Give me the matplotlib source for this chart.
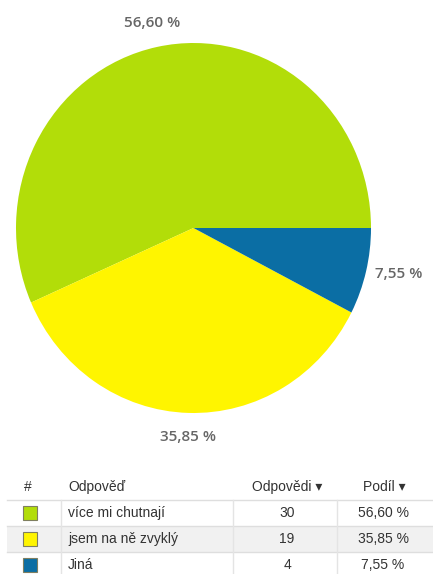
import matplotlib

matplotlib.use("Agg")
import matplotlib.pyplot as plt
from matplotlib.patches import Rectangle
import numpy as np

# data
answers = ["více mi chutnají", "jsem na ně zvyklý", "Jiná"]
counts = [30, 19, 4]
shares = ["56,60 %", "35,85 %", "7,55 %"]
colors = ["#b2dd09", "#fff500", "#0b6ea4"]
headers = ["#", "Odpověď", "Odpovědi \u25be", "Podíl \u25be"]

W, H = 433, 574
fig = plt.figure(figsize=(W / 100, H / 100), dpi=100)

# pie (slightly taller than wide, like the original)
ax = fig.add_axes([16 / W, 1 - 413 / H, 355 / W, 370 / H])
wedges, _ = ax.pie(counts, colors=colors, startangle=0, counterclock=True,
                   wedgeprops=dict(linewidth=0))
ax.set_aspect("auto")
ax.set_xlim(-1, 1)
ax.set_ylim(-1, 1)

for w, label in zip(wedges, shares):
    mid = np.deg2rad((w.theta1 + w.theta2) / 2)
    c, s = np.cos(mid), np.sin(mid)
    if abs(c) > 0.6:
        r = 1.05
        ha = "left" if c > 0 else "right"
    else:
        r = 1.13
        ha = "center"
    ax.text(r * c, r * s, label, ha=ha, va="center", fontsize=11,
            color="#666666", fontweight="semibold", family="Open Sans")

# table below the pie, drawn in pixel coordinates
tx = fig.add_axes([0, 0, 1, 1])
tx.set_xlim(0, W)
tx.set_ylim(H, 0)
tx.axis("off")

font = dict(family=["Liberation Sans", "DejaVu Sans"], fontsize=10,
            color="#333333", va="center")
header_y = 487
tx.text(28, header_y, headers[0], ha="center", **font)
tx.text(68, header_y, headers[1], ha="left", **font)
tx.text(287, header_y, headers[2], ha="center", **font)
tx.text(384, header_y, headers[3], ha="center", **font)

row_top0 = 500
row_h = 26
for i, (ans, n, sh, col) in enumerate(zip(answers, counts, shares, colors)):
    top = row_top0 + i * row_h
    if i % 2 == 1:
        tx.add_patch(Rectangle((7, top), W - 7, row_h, color="#f1f1f1", lw=0))
    tx.plot([7, W], [top, top], color="#dedede", lw=1)
    yc = top + row_h / 2
    tx.add_patch(Rectangle((23, yc - 7), 14, 14, facecolor=col,
                           edgecolor="#7f7f60", lw=0.8))
    tx.text(68, yc, ans, ha="left", **font)
    tx.text(287, yc, str(n), ha="center", **font)
    tx.text(383, yc, sh, ha="center", **font)

for x in [61, 233, 337]:
    tx.plot([x, x], [row_top0, H], color="#e4e4e4", lw=1)

fig.savefig("out.png", dpi=100)
